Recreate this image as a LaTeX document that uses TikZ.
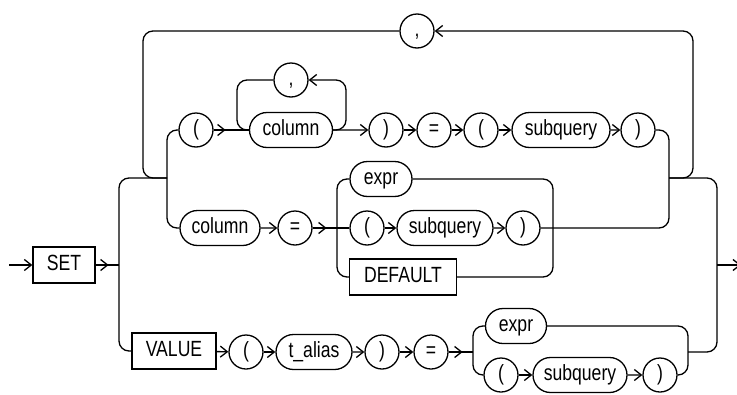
\documentclass[tikz,border=0pt]{standalone}
\usepackage{fontspec}
\setmainfont[FakeStretch=0.8]{Liberation Sans}
\usetikzlibrary{arrows.meta,shapes.misc}

\begin{document}
\begin{tikzpicture}[x=1pt, y=-1pt,
    line width=1.3pt,
    font=\fontsize{22}{26}\selectfont,
    every node/.style={text height=15.8pt, text depth=4.4pt},
    sym/.style={draw, circle, minimum size=34pt, inner sep=0pt},
    term/.style={draw, rounded rectangle, minimum height=35pt, minimum width=#1, inner sep=0pt},
    kw/.style={draw, rectangle, minimum height=36pt, minimum width=#1, inner sep=0pt},
    rail/.style={rounded corners=10pt},
    arr/.style={-{Straight Barb[length=7pt,width=11pt]}},
]
\useasboundingbox (0,0) rectangle (737,394);

% keywords and items
\node[kw=62] (set) at (64,265) {SET};
\node[kw=84] (value) at (174,351) {VALUE};

\node[sym] (cm0) at (417,31) {,};

\node[sym] (lp1) at (196,130) {(};
\node[sym] (cm1) at (291,80) {,};
\node[term=83] (col1) at (291,130) {column};
\node[sym] (rp1) at (386,130) {)};
\node[sym] (eq1) at (434,130) {=};
\node[sym] (lp1b) at (481,130) {(};
\node[term=98] (sub1) at (561,130) {subquery};
\node[sym] (rp1b) at (638,130) {)};

\node[term=80] (col2) at (220,228) {column};
\node[sym] (eq2) at (295,228) {=};
\node[term=62] (expr2) at (381,179) {expr};
\node[sym] (lp2) at (367,228) {(};
\node[term=96] (sub2) at (445,228) {subquery};
\node[sym] (rp2) at (523,228) {)};
\node[kw=107] (default) at (403,277) {DEFAULT};

\node[sym] (lp3) at (246,352) {(};
\node[term=76] (talias) at (314,352) {t\_alias};
\node[sym] (rp3) at (382,352) {)};
\node[sym] (eq3) at (431,352) {=};
\node[term=61] (expr3) at (516,326) {expr};
\node[sym] (lp4) at (501,375) {(};
\node[term=94] (sub3) at (580,375) {subquery};
\node[sym] (rp4) at (660,375) {)};

% rail points
\coordinate (in) at (9,265);
\coordinate (fL) at (119,265);
\coordinate (gIn) at (167,178);
\coordinate (gOut) at (669,178);
\coordinate (fR) at (717,265);
\coordinate (out) at (741,265);
\coordinate (bL) at (143,31);
\coordinate (bR) at (693,31);
\coordinate (cL) at (237,80);
\coordinate (cR) at (346,80);
\coordinate (cL2) at (337,228);
\coordinate (cR2) at (553,228);
\coordinate (vL) at (473,352);
\coordinate (vOut) at (688,352);

% entry and exit
\draw[arr] (in) -- (set);
\draw (set) -- (fL);
\draw[arr] (set.east) -- ++(13,0);
\draw[rail] (gIn) -| (fL) |- (value);
\draw[rail] (gOut) -| (fR) |- (vOut);
\draw[arr] (fR) -- (out);

% outer repeat
\draw[rail,arr] (gOut) -| (bR) -- (cm0);
\draw[rail] (cm0) -- (bL) |- (gIn);

% first row
\draw[rail] (lp1) -| (gIn) |- (col2);
\draw[rail] (rp1b) -| (gOut) |- (rp2);
\draw (lp1) -- (col1);
\draw[arr] (lp1.east) -- ++(12,0);
\draw[rail,arr] (col1) -| (cR) -- (cm1);
\draw[rail] (cm1) -- (cL) |- (col1);
\draw[arr] (col1) -- (rp1);
\draw[arr] (rp1) -- (eq1);
\draw[arr] (eq1) -- (lp1b);
\draw[arr] (lp1b) -- (sub1);
\draw[arr] (sub1) -- (rp1b);

% second row
\draw[arr] (col2) -- (eq2);
\draw (eq2) -- (cL2);
\draw[arr] (eq2.east) -- ++(14,0);
\draw (cL2) -- (lp2);
\draw[rail] (expr2) -| (cL2) |- (default);
\draw[rail] (expr2) -| (cR2) |- (default);
\draw[arr] (lp2) -- (sub2);
\draw[arr] (sub2) -- (rp2);

% VALUE row
\draw[arr] (value) -- (lp3);
\draw[arr] (lp3) -- (talias);
\draw[arr] (talias) -- (rp3);
\draw[arr] (rp3) -- (eq3);
\draw (eq3) -- (vL);
\draw[arr] (eq3.east) -- ++(14,0);
\draw[rail] (expr3) -| (vL) |- (lp4);
\draw[rail] (expr3) -| (vOut) |- (rp4);
\draw[arr] (lp4) -- (sub3);
\draw[arr] (sub3) -- (rp4);
\end{tikzpicture}
\end{document}
